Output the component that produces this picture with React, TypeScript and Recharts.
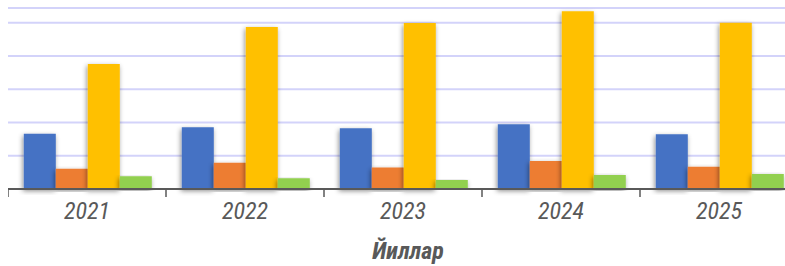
import { Bar, BarChart, CartesianGrid, Rectangle, XAxis, YAxis } from 'recharts';

const years = ['2021', '2022', '2023', '2024', '2025'];
const blueValues = [1.66, 1.86, 1.83, 1.95, 1.65];
const orangeValues = [0.61, 0.79, 0.65, 0.84, 0.67];
const yellowValues = [3.76, 4.87, 4.99, 5.35, 5.0];
const greenValues = [0.38, 0.32, 0.27, 0.42, 0.45];
const yTicks = [0, 1, 2, 3, 4, 5];
const yMax = 5.444;

const chartData = years.map((year, i) => ({
  year,
  blue: blueValues[i],
  orange: orangeValues[i],
  yellow: yellowValues[i],
  green: greenValues[i],
}));

const FONT = "'Liberation Sans Narrow', 'Roboto Condensed', 'Arial Narrow', sans-serif";
const TICK_SIZE = 8;
const TICK_MARGIN = 5;

function YearTick(props: any) {
  const { x, y, payload, index, visibleTicksCount } = props;
  const half = payload?.offset ?? 0;
  const axisY = y - TICK_SIZE - TICK_MARGIN;
  return (
    <g>
      <line x1={x - half} x2={x - half} y1={axisY} y2={axisY + TICK_SIZE} stroke="#595959" strokeWidth={1.5} />
      {index === visibleTicksCount - 1 && (
        <line x1={x + half} x2={x + half} y1={axisY} y2={axisY + TICK_SIZE} stroke="#595959" strokeWidth={1.5} />
      )}
      <text
        x={x}
        y={y}
        dy="0.71em"
        textAnchor="middle"
        fill="#595959"
        fontSize={24}
        fontStyle="italic"
        fontFamily={FONT}
      >
        {payload.value}
      </text>
    </g>
  );
}

function ShadowBar(props: any) {
  return <Rectangle {...props} filter="url(#barShadow)" />;
}

export default function App() {
  return (
    <div style={{ position: 'fixed', left: 0, top: 0, width: 785, height: 266, overflow: 'hidden', background: '#fff' }}>
      <div style={{ position: 'absolute', left: 8, top: -12 }}>
        <BarChart
          width={790}
          height={278}
          data={chartData}
          margin={{ top: 20, right: 0, bottom: 0, left: 0 }}
          barCategoryGap="10%"
          barGap={0}
          accessibilityLayer={false}
          style={{ outline: 'none' }}
        >
          <defs>
            <filter id="barShadow" x="-30%" y="-10%" width="160%" height="120%">
              <feDropShadow dx={-1} dy={2} stdDeviation={2.5} floodColor="#000" floodOpacity={0.45} />
            </filter>
          </defs>
          <CartesianGrid vertical={false} stroke="#d3d3fa" strokeWidth={2} />
          <YAxis hide domain={[0, yMax]} ticks={yTicks} />
          <XAxis
            dataKey="year"
            height={77}
            axisLine={{ stroke: '#595959', strokeWidth: 2 }}
            tickLine={false}
            tickSize={TICK_SIZE}
            tickMargin={TICK_MARGIN}
            tick={<YearTick />}
            interval={0}
            label={{
              value: 'Йиллар',
              position: 'insideBottom',
              offset: 7,
              dx: 5,
              fill: '#595959',
              fontSize: 24,
              fontWeight: 'bold',
              fontStyle: 'italic',
              fontFamily: FONT,
            }}
          />
          <Bar dataKey="blue" fill="#4472c4" shape={<ShadowBar />} isAnimationActive={false} />
          <Bar dataKey="orange" fill="#ed7d31" shape={<ShadowBar />} isAnimationActive={false} />
          <Bar dataKey="yellow" fill="#ffc000" shape={<ShadowBar />} isAnimationActive={false} />
          <Bar dataKey="green" fill="#92d050" shape={<ShadowBar />} isAnimationActive={false} />
        </BarChart>
      </div>
    </div>
  );
}
